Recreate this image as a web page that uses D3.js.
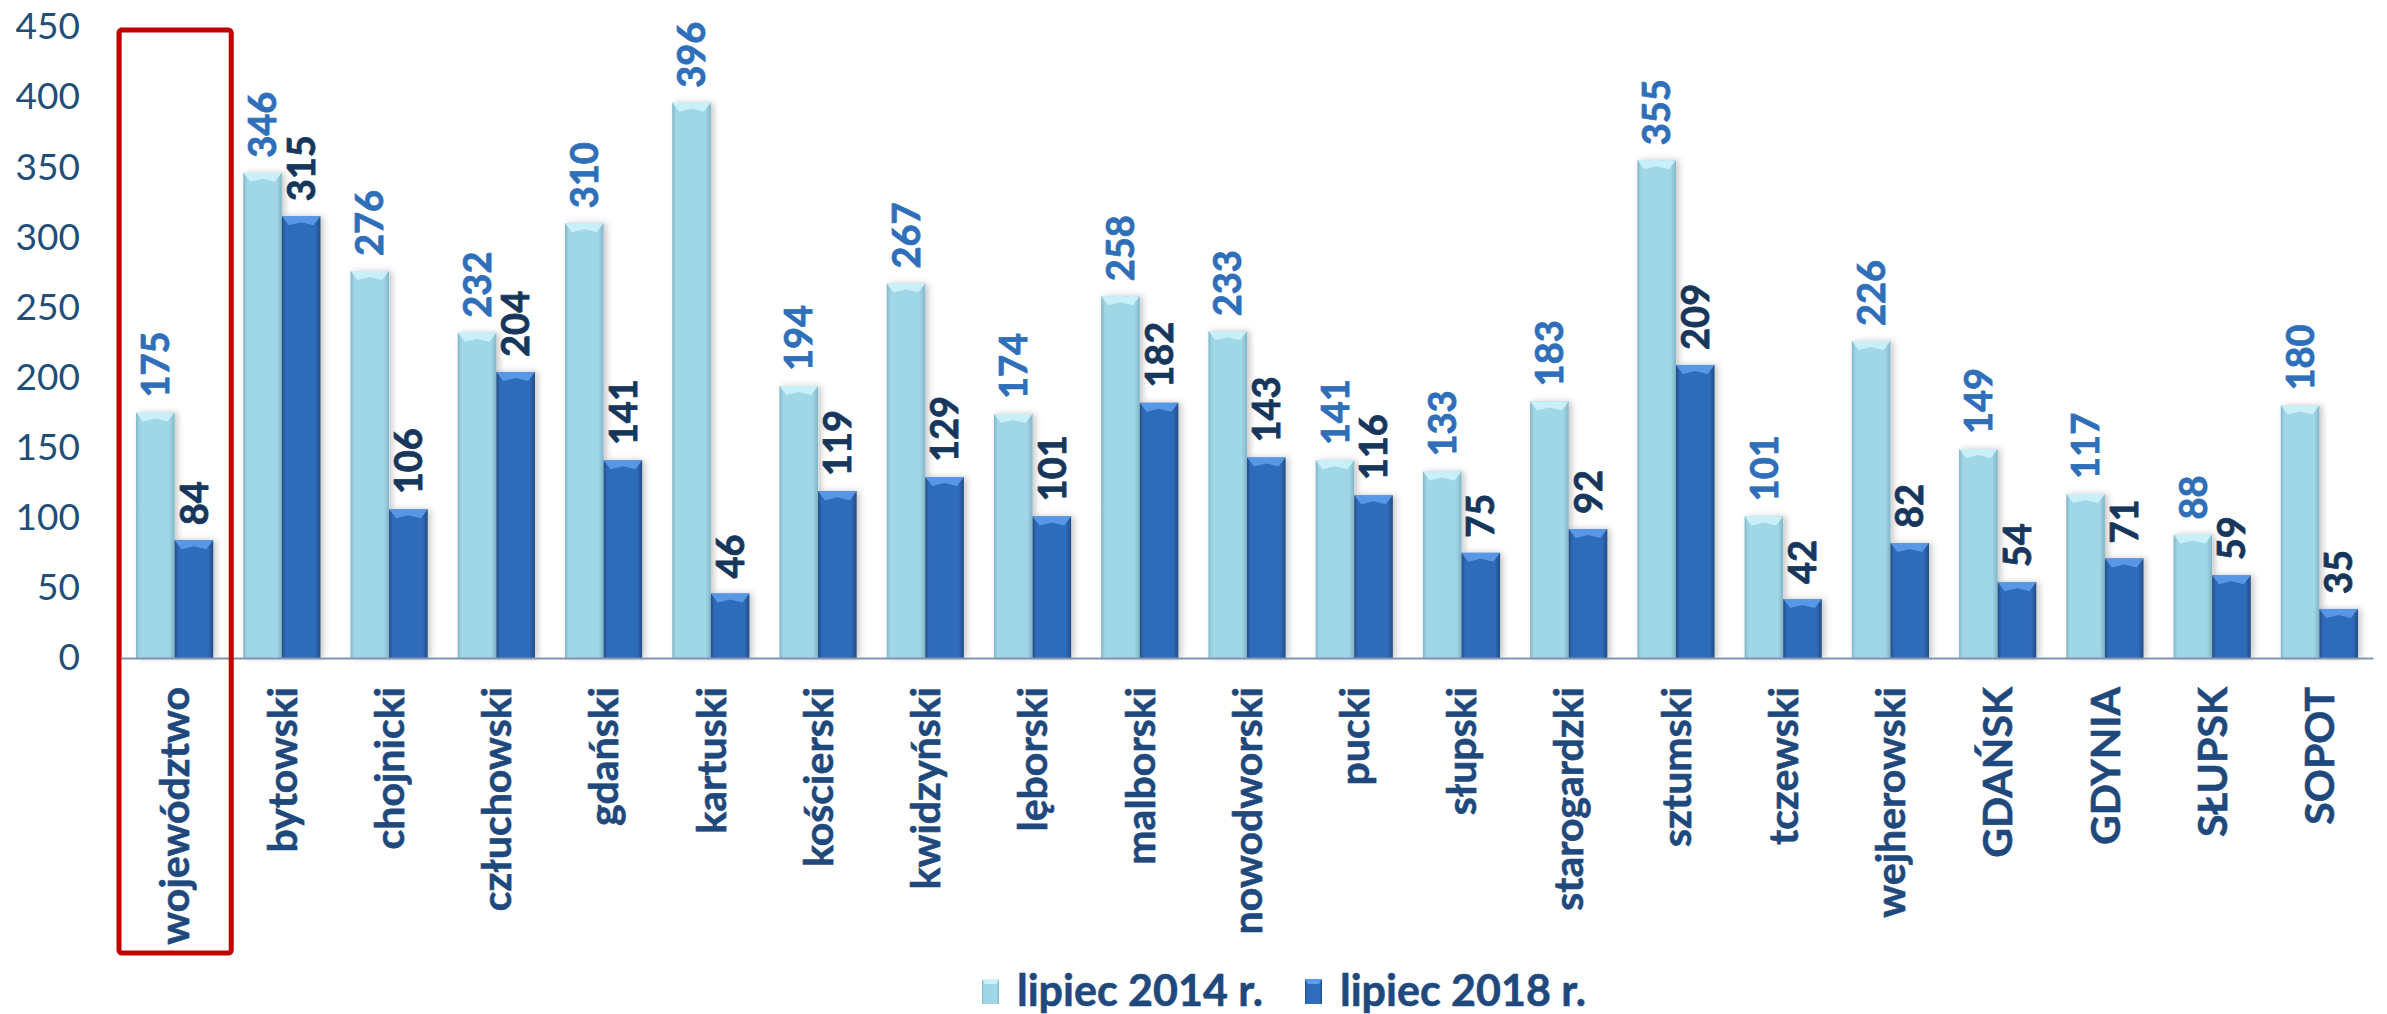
<!DOCTYPE html>
<html>
<head>
<meta charset="utf-8">
<script src="https://cdn.jsdelivr.net/npm/d3@7"></script>
<style>
  html, body { margin: 0; padding: 0; background: #ffffff; }
  svg { display: block; }
</style>
</head>
<body>
<svg id="chart" width="2387" height="1014"></svg>
<script>
const categories = ["województwo","bytowski","chojnicki","człuchowski","gdański","kartuski","kościerski","kwidzyński","lęborski","malborski","nowodworski","pucki","słupski","starogardzki","sztumski","tczewski","wejherowski","GDAŃSK","GDYNIA","SŁUPSK","SOPOT"];
const values2014 = [175,346,276,232,310,396,194,267,174,258,233,141,133,183,355,101,226,149,117,88,180];
const values2018 = [84,315,106,204,141,46,119,129,101,182,143,116,75,92,209,42,82,54,71,59,35];
const seriesNames = ["lipiec 2014 r.", "lipiec 2018 r."];
const yTicks = [0,50,100,150,200,250,300,350,400,450];

(function () {
const svg = d3.select("#chart");
const pLeft = 121, pRight = 2373, pTop = 27, pBottom = 658;

const x = d3.scaleBand().domain(categories).range([pLeft, pRight]).paddingInner(0.28).paddingOuter(0.14);
const xs = d3.scaleBand().domain(["s0","s1"]).range([0, x.bandwidth()]);
const y = d3.scaleLinear().domain([0, 450]).range([pBottom, pTop]);

// defs
const defs = svg.append("defs");
function hGrad(id, edge, mid) {
  const g = defs.append("linearGradient").attr("id", id).attr("x1", "0%").attr("x2", "100%").attr("y1", "0%").attr("y2", "0%");
  g.append("stop").attr("offset", "0%").attr("stop-color", edge);
  g.append("stop").attr("offset", "10%").attr("stop-color", mid);
  g.append("stop").attr("offset", "86%").attr("stop-color", mid);
  g.append("stop").attr("offset", "100%").attr("stop-color", edge);
}
hGrad("g0", "#82b6c8", "#9fd7e7");
hGrad("g1", "#234c82", "#2f6cbb");
const f = defs.append("filter").attr("id", "sh").attr("x", "-30%").attr("y", "-10%").attr("width", "160%").attr("height", "120%");
f.append("feDropShadow").attr("dx", 3).attr("dy", 0).attr("stdDeviation", 3).attr("flood-color", "#000").attr("flood-opacity", 0.22);

const colors = { bevel: ["#cdf2fa", "#5c9cea"], label: ["#2f6fba", "#17365c"] };

// y axis line (gray)
svg.append("line").attr("x1", pLeft).attr("x2", pLeft).attr("y1", y(450)).attr("y2", pBottom)
  .attr("stroke", "#9aa6b8").attr("stroke-width", 1.5);

// y axis
const yAxis = svg.append("g").attr("transform", `translate(${pLeft},0)`)
  .call(d3.axisLeft(y).tickValues(yTicks).tickSize(0).tickPadding(41));
yAxis.select(".domain").remove();
yAxis.selectAll("text").attr("font-family", "Lato").attr("font-size", 37).attr("fill", "#1f4e79");

// bars
const data = categories.map((c, i) => ({ c, vals: [values2014[i], values2018[i]] }));
const groups = svg.append("g").selectAll("g").data(data).join("g")
  .attr("transform", d => `translate(${x(d.c)},0)`);

groups.each(function(d) {
  const g = d3.select(this);
  d.vals.forEach((v, s) => {
    const bx = xs("s" + s), bw = xs.bandwidth();
    const ty = y(v);
    const bg = g.append("g");
    bg.append("rect").attr("x", bx).attr("y", ty).attr("width", bw).attr("height", y(0) - ty)
      .attr("fill", `url(#g${s})`).attr("filter", "url(#sh)");
    const bev = Math.min(9, (y(0) - ty) / 2);
    bg.append("path")
      .attr("d", `M${bx},${ty} L${bx + bw},${ty} L${bx + bw - 7},${ty + bev} L${bx + bw / 2},${ty + bev - 3} L${bx + 7},${ty + bev} Z`)
      .attr("fill", colors.bevel[s]).attr("opacity", 0.9);
    g.append("text")
      .attr("transform", `translate(${bx + bw / 2},${ty - 15}) rotate(-90)`)
      .attr("dy", "0.36em")
      .attr("text-anchor", "start")
      .attr("font-family", "Lato").attr("font-weight", "bold").attr("font-size", 38)
      .attr("fill", colors.label[s]).attr("stroke", colors.label[s]).attr("stroke-width", 0.8)
      .text(v);
  });
});

// x axis
const xAxis = svg.append("g").attr("transform", `translate(0,${pBottom})`)
  .call(d3.axisBottom(x).tickSize(0).tickSizeOuter(0));
xAxis.select(".domain").attr("stroke", "#8194b0").attr("stroke-width", 2);
xAxis.selectAll("text")
  .attr("y", null).attr("dy", "0.36em")
  .attr("transform", "translate(0,29) rotate(-90)")
  .attr("text-anchor", "end")
  .attr("font-family", "Lato").attr("font-weight", "bold").attr("font-size", 41)
  .attr("fill", "#1f497d").attr("stroke", "#1f497d").attr("stroke-width", 0.6);

// red highlight box around first category
svg.append("rect")
  .attr("x", pLeft - 2).attr("y", y(450) + 3)
  .attr("width", x.step() + 5).attr("height", 953 - (y(450) + 3))
  .attr("rx", 3)
  .attr("fill", "none").attr("stroke", "#c00000").attr("stroke-width", 5);

// legend
const legend = svg.append("g");
const legendX = [982, 1305];
seriesNames.forEach((name, s) => {
  const lg = legend.append("g").attr("transform", `translate(${legendX[s]},0)`);
  lg.append("rect").attr("x", 0).attr("y", 979).attr("width", 17).attr("height", 25).attr("fill", `url(#g${s})`);
  lg.append("path").attr("d", "M0,979 L17,979 L14,984 L3,984 Z").attr("fill", colors.bevel[s]);
  lg.append("text").attr("x", 35).attr("y", 1006)
    .attr("font-family", "Lato").attr("font-weight", "bold").attr("font-size", 43)
    .attr("fill", "#1f497d").attr("stroke", "#1f497d").attr("stroke-width", 0.6).text(name);
});
})();
</script>
</body>
</html>
